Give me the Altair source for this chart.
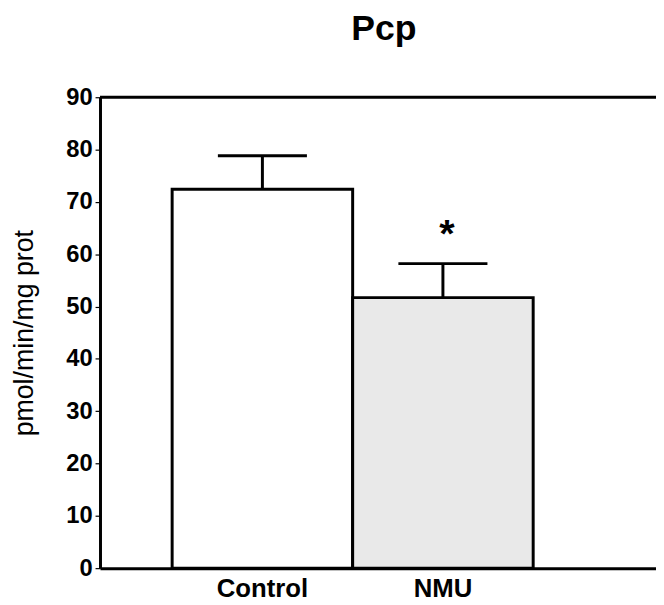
import altair as alt
import pandas as pd

groups = ["Control", "NMU"]
means = [72.4, 51.7]
sems = [6.4, 6.5]
fills = ["#ffffff", "#e9e9e9"]
star_group = ["NMU"]
star_y = [64.0]
y_ticks = [0, 10, 20, 30, 40, 50, 60, 70, 80, 90]

df = pd.DataFrame({"group": groups, "mean": means, "sem": sems, "fill": fills})
df["upper"] = df["mean"] + df["sem"]
star_df = pd.DataFrame({"group": star_group, "y": star_y, "t": ["*"]})

FONT = "Liberation Sans"

xscale = alt.Scale(domain=groups, paddingInner=0, paddingOuter=0.54, align=0.37)
yscale = alt.Scale(domain=[0, 90], nice=False)

xenc = alt.X("group:N", scale=xscale, sort=groups,
             axis=alt.Axis(title=None, ticks=False, labelAngle=0, labelFont=FONT,
                           labelFontSize=26, labelFontWeight="bold", labelColor="black",
                           labelPadding=8, domainColor="black", domainWidth=3))
yaxis = alt.Axis(title="pmol/min/mg prot", values=y_ticks, labelFont=FONT, labelFontSize=24,
                 labelFontWeight="bold", labelColor="black", tickColor="black", tickSize=5,
                 tickWidth=1.2, labelPadding=3, domainColor="black", domainWidth=3,
                 titleFont=FONT, titleFontSize=27, titleFontWeight="normal", titleColor="black",
                 titlePadding=28, grid=False)

bars = alt.Chart(df).mark_bar(stroke="black", strokeWidth=3).encode(
    x=xenc,
    y=alt.Y("mean:Q", scale=yscale, axis=yaxis),
    fill=alt.Fill("fill:N", scale=None),
)

stems = alt.Chart(df).mark_rule(color="black", strokeWidth=3).encode(
    x=alt.X("group:N", scale=xscale, sort=groups),
    y=alt.Y("mean:Q", scale=yscale),
    y2="upper:Q",
)

caps = alt.Chart(df).mark_tick(color="black", opacity=1, thickness=3, size=90,
                               orient="horizontal").encode(
    x=alt.X("group:N", scale=xscale, sort=groups),
    y=alt.Y("upper:Q", scale=yscale),
)

star = alt.Chart(star_df).mark_text(font=FONT, fontSize=40, fontWeight="bold", baseline="middle",
                                    dy=2, dx=4, color="black").encode(
    x=alt.X("group:N", scale=xscale, sort=groups),
    y=alt.Y("y:Q", scale=yscale),
    text="t:N",
)

top_line = alt.Chart(pd.DataFrame({"v": [90]})).mark_rule(color="black", strokeWidth=3).encode(
    y=alt.Y("v:Q", scale=yscale),
    x=alt.value(0),
    x2=alt.value(562),
)

chart = alt.layer(bars, stems, caps, star, top_line).properties(
    width=562,
    height=476,
    autosize=alt.AutoSizeParams(type="none"),
    padding={"left": 93, "top": 87, "right": 0, "bottom": 30},
    title=alt.TitleParams("Pcp", font=FONT, fontSize=36, fontWeight="bold", color="black",
                          anchor="middle", offset=38, dx=6),
).configure_view(stroke=None).configure(background="white")

chart.save("out.html", embed_options={"renderer": "svg", "actions": False})
